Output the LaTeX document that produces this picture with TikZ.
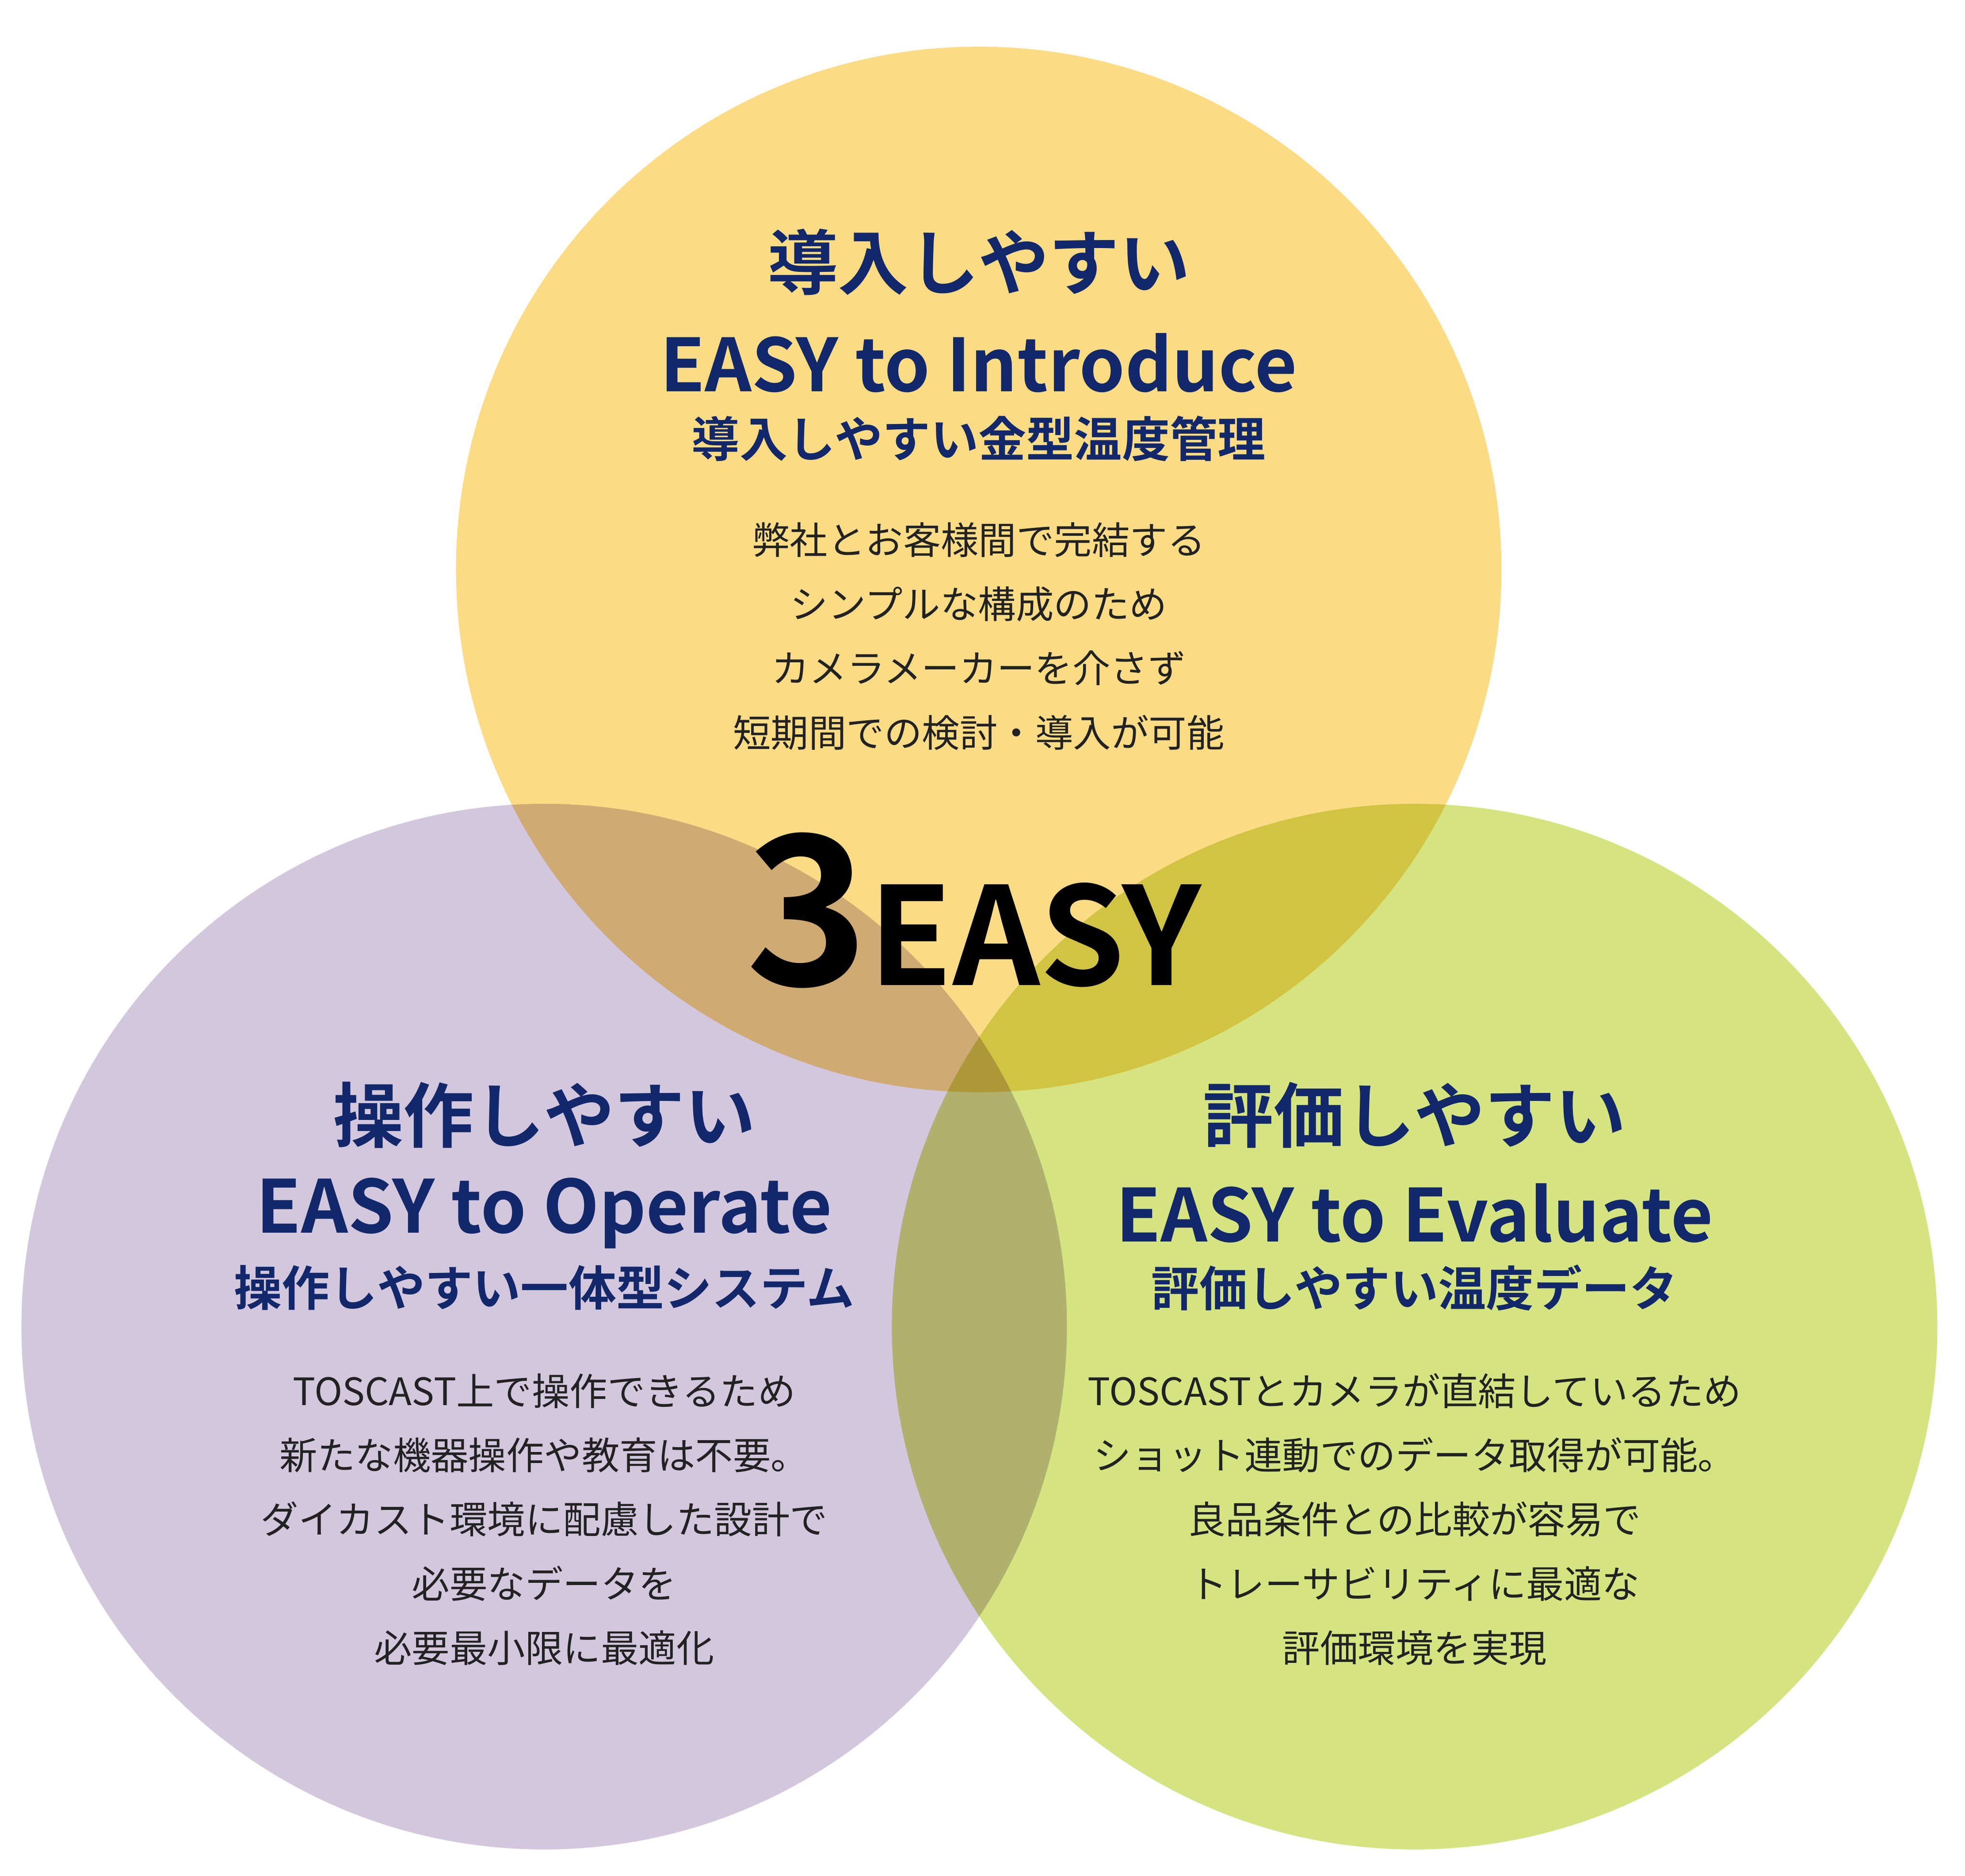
\documentclass[tikz,border=0pt]{standalone}
\usepackage{fontspec}
\setmainfont{Noto Sans CJK JP}[BoldFont=* Bold]
\definecolor{cy}{HTML}{FBDC85}
\definecolor{cl}{HTML}{D3C7DE}
\definecolor{cg}{HTML}{D5E480}
\definecolor{navy}{HTML}{12286A}
\definecolor{body}{HTML}{222222}
\tikzset{
 circ/.style={circle,minimum size=830pt,inner sep=0pt,draw=none},
 ttl/.style={font=\bfseries\fontsize{56}{60}\selectfont,text=navy,inner sep=0pt},
 eng/.style={font=\bfseries\fontsize{58}{62}\selectfont,text=navy,inner sep=0pt},
 sub/.style={font=\bfseries\fontsize{38}{42}\selectfont,text=navy,inner sep=0pt},
 txt/.style={font=\fontsize{30}{51}\selectfont,text=body,align=center,inner sep=0pt}
}
\begin{document}
\begin{tikzpicture}[x=1pt,y=-1pt]
\useasboundingbox[fill=white] (0,0) rectangle (1560,1489);
\begin{scope}[blend mode=multiply]
\node[circ,fill=cy] (ct) at (777,452) {};
\node[circ,fill=cl] (cl) at (432,1053) {};
\node[circ,fill=cg] (cr) at (1123,1053) {};
\end{scope}
\node[ttl] (t1) at (777,208) {導入しやすい};
\node[eng] (t2) at (777,288) {EASY to Introduce};
\node[sub] (t3) at (777,348) {導入しやすい金型温度管理};
\node[txt] (t4) at (777,505) {弊社とお客様間で完結する\\シンプルな構成のため\\カメラメーカーを介さず\\短期間での検討・導入が可能};
\node[inner sep=0pt,anchor=base west,font=\bfseries\fontsize{165}{170}\selectfont] (n3) at (592,782) {3};
\node[inner sep=0pt,anchor=base west,font=\bfseries\fontsize{108}{110}\selectfont] (ne) at (n3.base east) {EASY};
\node[ttl] (l1) at (432,885) {操作しやすい};
\node[eng] (l2) at (432,963) {EASY to Operate};
\node[sub] (l3) at (432,1022) {操作しやすい一体型システム};
\node[txt] (l4) at (432,1206) {TOSCAST上で操作できるため\\新たな機器操作や教育は不要。\\ダイカスト環境に配慮した設計で\\必要なデータを\\必要最小限に最適化};
\node[ttl] (r1) at (1123,885) {評価しやすい};
\node[eng] (r2) at (1123,963) {EASY to Evaluate};
\node[sub] (r3) at (1123,1022) {評価しやすい温度データ};
\node[txt] (r4) at (1123,1206) {TOSCASTとカメラが直結しているため\\ショット連動でのデータ取得が可能。\\良品条件との比較が容易で\\トレーサビリティに最適な\\評価環境を実現};
\end{tikzpicture}
\end{document}
